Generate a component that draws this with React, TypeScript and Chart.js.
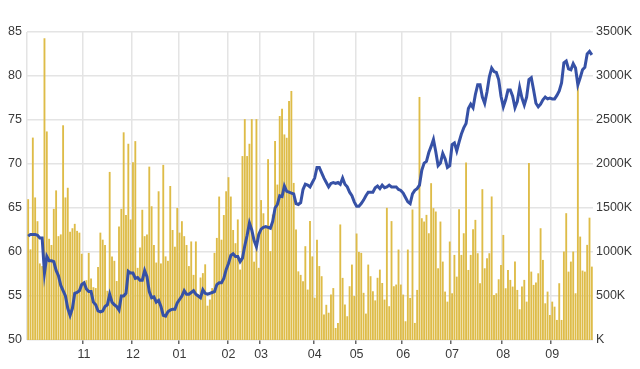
import React, { useEffect, useRef } from "react";
import { Chart, registerables } from "chart.js";

Chart.register(...registerables);

// Month tick labels (first segment before "11" is unlabeled)
const monthLabels = ["", "11", "12", "01", "02", "03", "04", "05", "06", "07", "08", "09"];

// Daily volume (K) per month
const volOct = [1600, 1030, 2300, 1620, 1350, 870, 840, 3430, 2370, 1150, 1080, 1490, 1700, 1180, 1200, 2440, 1620, 1730, 1230, 1270, 1320, 1240, 1220, 980];
const volNov = [650, 680, 990, 700, 600, 590, 830, 1220, 1140, 1080, 560, 1910, 950, 900, 670, 1290, 1490, 2360, 1420, 2230, 1370];
const volDec = [2020, 2260, 820, 1050, 1480, 1180, 1200, 1970, 1520, 1080, 880, 1690, 870, 1990, 950, 900, 1750, 1250, 1060, 1500];
const volJan = [1220, 1350, 1180, 1080, 840, 1120, 740, 1120, 520, 710, 760, 860, 390, 460, 590, 990, 1160, 1630, 1140, 1420, 1690];
const volFeb = [1850, 1630, 1250, 1100, 1370, 800, 2090, 2510, 2090, 2230, 2510, 890, 2510, 820];
const volMar = [1590, 1440, 1290, 2055, 1010, 1426, 2260, 1766, 2545, 2628, 2336, 2298, 2716, 2830, 1785, 1255, 780, 740, 668, 1066, 573, 1351, 950];
const volApr = [480, 1140, 840, 725, 290, 400, 310, 516, 590, 137, 194, 1313, 706, 403, 270, 611, 857, 500];
const volMay = [1210, 1000, 990, 536, 300, 857, 725, 554, 450, 707, 800, 648, 459, 1502, 384, 1351, 611, 630, 1028, 630];
const volJun = [516, 213, 1028, 478, 1483, 194, 569, 2762, 1384, 1346, 1422, 1213, 1782, 1498, 1460, 815, 1346, 891, 550, 436, 1119];
const volJul = [531, 967, 720, 1486, 967, 1213, 2017, 796, 967, 1259, 1365, 986, 645, 1714, 815, 929, 986, 1631, 512, 531, 690, 853];
const volAug = [1194, 588, 796, 683, 607, 891, 569, 349, 607, 683, 436, 2010, 777, 626, 652, 758, 1270, 910, 417, 550, 284];
const volSep = [436, 379, 228, 645, 228, 1005, 1441, 777, 891, 1005, 531, 2882, 1175, 789, 777, 1081, 1390, 834];

// Daily closing price per month
const priceOct = [61.8, 62.0, 62.0, 62.0, 61.9, 61.6, 61.6, 57.6, 59.5, 59.0, 59.0, 58.9, 57.9, 57.3, 56.2, 55.6, 55.0, 53.6, 52.8, 53.6, 55.3, 55.4, 55.6, 56.3];
const priceNov = [56.5, 55.8, 55.5, 55.5, 54.3, 54.0, 53.3, 53.2, 53.3, 53.8, 54.0, 55.2, 54.3, 54.0, 53.8, 53.4, 55.0, 55.0, 55.3, 57.8, 57.6];
const priceDec = [57.6, 57.0, 57.1, 56.8, 56.8, 57.9, 57.2, 55.5, 54.8, 54.9, 54.3, 54.5, 53.8, 52.8, 52.7, 53.2, 53.4, 53.5, 53.5, 54.2];
const priceJan = [54.6, 55.0, 55.6, 55.2, 55.2, 55.4, 55.6, 55.2, 55.0, 54.8, 55.7, 55.3, 55.2, 55.3, 55.4, 55.5, 56.3, 56.5, 56.5, 57.0, 58.0];
const priceFeb = [58.7, 59.6, 59.8, 59.5, 59.5, 58.9, 59.3, 60.7, 61.9, 63.3, 62.5, 61.3, 60.6, 62.0];
const priceMar = [62.6, 62.8, 62.9, 62.8, 62.7, 63.5, 65.0, 65.4, 66.4, 66.3, 67.5, 66.9, 66.8, 66.7, 66.6, 65.5, 65.4, 65.6, 67.1, 67.7, 67.6, 67.4, 67.9];
const priceApr = [68.4, 69.6, 69.6, 69.0, 68.4, 67.9, 67.4, 67.8, 67.9, 67.8, 67.9, 67.7, 68.4, 67.7, 67.4, 66.8, 66.4, 65.7];
const priceMay = [65.2, 65.2, 65.5, 65.9, 66.4, 66.8, 66.8, 66.8, 67.3, 67.5, 67.2, 67.6, 67.3, 67.4, 67.6, 67.4, 67.4, 67.4, 67.1, 67.0];
const priceJun = [66.7, 66.2, 65.7, 65.5, 66.6, 67.0, 67.2, 67.6, 69.3, 70.1, 70.3, 71.3, 72.0, 72.8, 71.4, 69.8, 70.1, 71.2, 70.6, 69.6, 69.8];
const priceJul = [72.2, 72.4, 71.5, 72.5, 73.4, 74.1, 74.6, 76.3, 76.8, 76.4, 77.9, 79.0, 79.0, 77.6, 76.9, 78.2, 79.9, 80.9, 80.5, 80.4, 79.6, 77.7];
const priceAug = [76.5, 77.3, 78.4, 78.4, 77.7, 76.4, 77.1, 78.7, 77.5, 76.7, 77.6, 79.6, 79.8, 78.4, 76.9, 76.5, 76.8, 77.3, 77.6, 77.4, 77.5];
const priceSep = [77.4, 77.4, 77.8, 78.3, 79.2, 81.5, 81.7, 80.8, 80.7, 81.4, 80.9, 79.0, 79.8, 80.7, 81.0, 82.5, 82.8, 82.4];

const volumeMonths = [volOct, volNov, volDec, volJan, volFeb, volMar, volApr, volMay, volJun, volJul, volAug, volSep];
const priceMonths = [priceOct, priceNov, priceDec, priceJan, priceFeb, priceMar, priceApr, priceMay, priceJun, priceJul, priceAug, priceSep];

const priceTicks = { min: 50, max: 85, step: 5 };
const volumeTicks = { min: 0, max: 3500, step: 500 };

export default function App() {
  const canvasRef = useRef<HTMLCanvasElement | null>(null);

  useEffect(() => {
    const labels: string[] = [];
    const starts = new Set<number>();
    const volumes: number[] = [];
    const prices: number[] = [];
    volumeMonths.forEach((vols, m) => {
      vols.forEach((v, j) => {
        if (j === 0) starts.add(labels.length);
        labels.push(j === 0 ? monthLabels[m] : "");
        volumes.push(v);
        prices.push(priceMonths[m][j]);
      });
    });

    const font = { family: "'Liberation Sans', Arial, sans-serif", size: 12.5 };
    const textColor = "#3a3a3a";
    const gridColor = "#e4e4e4";

    const chart = new Chart(canvasRef.current as HTMLCanvasElement, {
      type: "bar",
      data: {
        labels,
        datasets: [
          {
            type: "line",
            data: prices,
            yAxisID: "y",
            borderColor: "#3651a6",
            borderWidth: 3,
            pointRadius: 0,
            tension: 0,
            order: 0,
          } as any,
          {
            type: "bar",
            data: volumes,
            yAxisID: "y2",
            backgroundColor: "rgb(222,188,72)",
            barPercentage: 0.8,
            categoryPercentage: 1,
            order: 1,
          },
        ],
      },
      options: {
        responsive: false,
        animation: false,
        devicePixelRatio: 1,
        layout: { padding: { top: 32, left: 0, right: 0, bottom: 0 } },
        plugins: { legend: { display: false }, tooltip: { enabled: false } },
        scales: {
          x: {
            type: "category",
            offset: true,
            afterFit: (s: any) => { s.height = 29; },
            grid: {
              offset: true,
              drawTicks: true,
              tickLength: 4,
              lineWidth: 1.5,
              color: (ctx: any) => (starts.has(ctx.index) ? gridColor : "rgba(0,0,0,0)"),
              tickColor: (ctx: any) => (starts.has(ctx.index) && ctx.index !== 0 ? "#666" : "rgba(0,0,0,0)"),
            },
            border: { display: false },
            ticks: {
              autoSkip: false,
              maxRotation: 0,
              minRotation: 0,
              padding: 3,
              color: textColor,
              font,
              callback: (_v: any, i: number) => labels[i],
            },
          },
          y: {
            position: "left",
            min: priceTicks.min,
            max: priceTicks.max,
            afterFit: (s: any) => { s.width = 27; },
            grid: { color: gridColor, lineWidth: 1.5, drawTicks: false },
            border: { display: false },
            ticks: { stepSize: priceTicks.step, padding: 5, color: textColor, font },
          },
          y2: {
            position: "right",
            min: volumeTicks.min,
            max: volumeTicks.max,
            afterFit: (s: any) => { s.width = 47; },
            grid: { display: false, drawTicks: false },
            border: { display: false },
            ticks: {
              stepSize: volumeTicks.step,
              padding: 3,
              color: textColor,
              font,
              callback: (v: any) => (Number(v) === 0 ? "K" : `${v}K`),
            },
          },
        },
      },
    });
    return () => chart.destroy();
  }, []);

  return (
    <div style={{ position: "fixed", left: 0, top: 0, width: 640, height: 369, background: "#fff" }}>
      <canvas ref={canvasRef} width={640} height={369} style={{ display: "block" }} />
    </div>
  );
}
